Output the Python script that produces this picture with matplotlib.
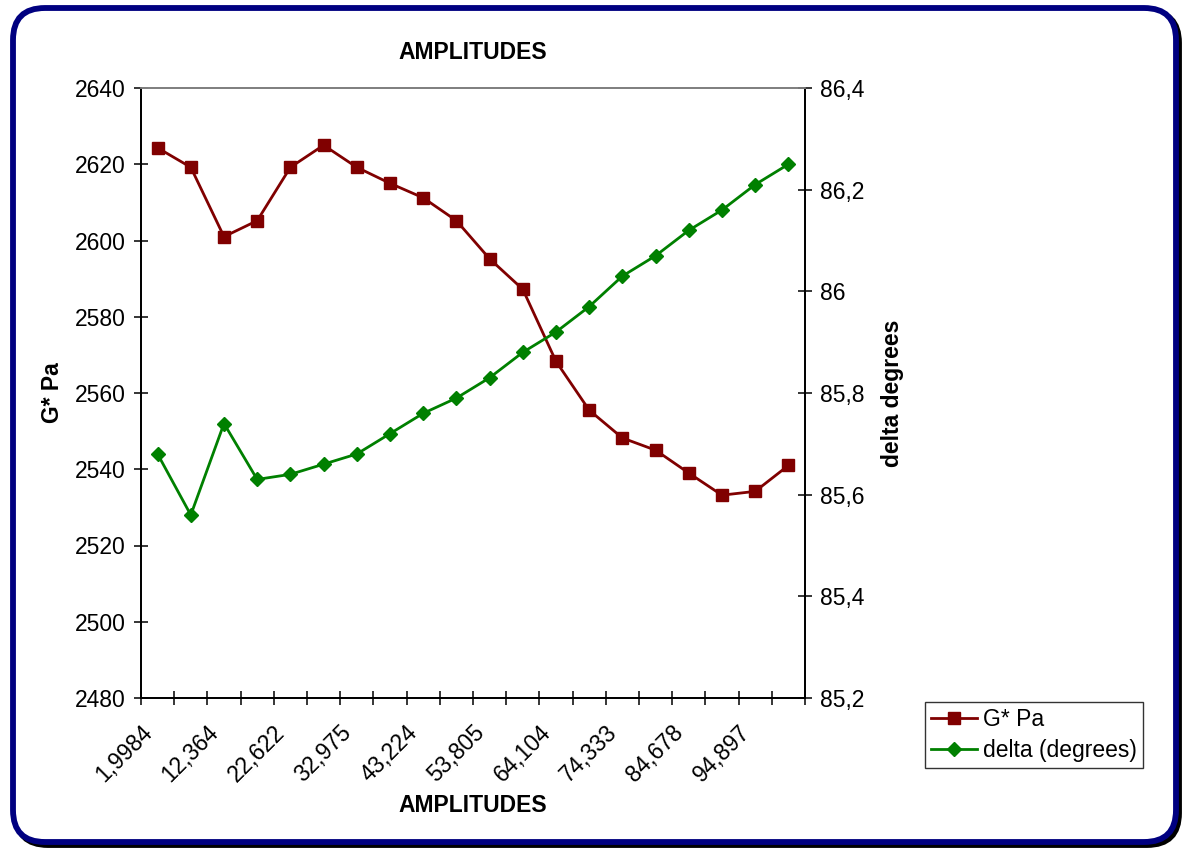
import matplotlib
matplotlib.use("Agg")
import matplotlib.pyplot as plt
from matplotlib.patches import FancyBboxPatch
from matplotlib.lines import Line2D
from matplotlib.transforms import ScaledTranslation
import numpy as np

# Data
amplitude_labels = ["1,9984", "12,364", "22,622", "32,975", "43,224",
                    "53,805", "64,104", "74,333", "84,678", "94,897"]
g_star = [2624.3, 2619.2, 2601.0, 2605.2, 2619.2, 2625.0, 2619.2, 2615.0,
          2611.2, 2605.2, 2595.2, 2587.2, 2568.3, 2555.5, 2548.2, 2545.0,
          2539.0, 2533.2, 2534.2, 2541.0]
delta = [85.68, 85.56, 85.74, 85.63, 85.64, 85.66, 85.68, 85.72, 85.76, 85.79,
         85.83, 85.88, 85.92, 85.97, 86.03, 86.07, 86.12, 86.16, 86.21, 86.25]

left_ticks = [2480, 2500, 2520, 2540, 2560, 2580, 2600, 2620, 2640]
right_ticks = [85.2, 85.4, 85.6, 85.8, 86.0, 86.2, 86.4]
right_tick_labels = ["85,2", "85,4", "85,6", "85,8", "86", "86,2", "86,4"]

plt.rcParams['font.family'] = ['Liberation Sans', 'DejaVu Sans']
FS = 16.5
W, H = 1184, 851
fig = plt.figure(figsize=(W / 100, H / 100), dpi=100)
fig.patch.set_facecolor("white")

# Rounded frame with a dark drop shadow
shadow = FancyBboxPatch((16 / W, 6 / H), 1163 / W, 834 / H,
                        boxstyle="round,pad=0,rounding_size=0.027",
                        transform=fig.transFigure, facecolor="none",
                        edgecolor="black", linewidth=4.2, zorder=0,
                        mutation_aspect=W / H)
frame = FancyBboxPatch((13 / W, 9 / H), 1163 / W, 834 / H,
                       boxstyle="round,pad=0,rounding_size=0.027",
                       transform=fig.transFigure, facecolor="white",
                       edgecolor="#000080", linewidth=4.2, zorder=1,
                       mutation_aspect=W / H)
fig.patches.extend([shadow, frame])

ax = fig.add_axes([141 / W, 1 - 698 / H, (805 - 141) / W, (698 - 88) / H])
ax.set_zorder(3)
ax.patch.set_alpha(0)
ax2 = ax.twinx()

n = len(g_star)
x = np.arange(n)

ax.plot(x, g_star, color="#800000", lw=2.0, marker="s", ms=8.5,
        markeredgecolor="#800000", zorder=4, clip_on=False)
ax2.plot(x, delta, color="#008000", lw=2.0, marker="D", ms=6.7,
         markeredgecolor="#008000", zorder=4, clip_on=False)

ax.set_xlim(-0.5, n - 0.5)
ax.set_ylim(2480, 2640)
ax2.set_ylim(85.2, 86.4)

ax.set_yticks(left_ticks)
ax.set_yticklabels([str(v) for v in left_ticks], fontsize=FS)
ax2.set_yticks(right_ticks)
ax2.set_yticklabels(right_tick_labels, fontsize=FS)

# Category boundaries carry the ticks; labels sit on every other category
ax.set_xticks(np.arange(-0.5, n, 1.0))
ax.set_xticklabels([])
label_pos = np.arange(0, n, 2)
label_tr = ax.get_xaxis_transform() + ScaledTranslation(-0.09, -0.31,
                                                        fig.dpi_scale_trans)
for xi, txt in zip(label_pos, amplitude_labels):
    ax.text(xi, 0, txt, transform=label_tr, rotation=45, ha="right",
            va="center", rotation_mode="anchor", fontsize=FS, clip_on=False)

ax.tick_params(axis="x", which="major", direction="inout", length=10,
               width=1.1, color="black")
ax.tick_params(axis="y", direction="inout", length=10, width=1.1, pad=6)
ax2.tick_params(axis="y", direction="inout", length=10, width=1.1, pad=6)

for a in (ax, ax2):
    for s in a.spines.values():
        s.set_linewidth(1.3)
    a.spines["top"].set_color("#808080")
    a.spines["left"].set_color("black")
    a.spines["right"].set_color("black")
    a.spines["bottom"].set_color("black")

ax.set_title("AMPLITUDES", fontsize=FS, fontweight="bold", pad=21)
fig.text(473 / W, 1 - 805 / H, "AMPLITUDES", fontsize=FS, fontweight="bold",
         ha="center", va="center")
ax.set_ylabel("G* Pa", fontsize=FS, fontweight="bold", labelpad=8)
ax2.set_ylabel("delta degrees", fontsize=FS, fontweight="bold", labelpad=12)

handles = [
    Line2D([], [], color="#800000", lw=2.0, marker="s", ms=8.5),
    Line2D([], [], color="#008000", lw=2.0, marker="D", ms=6.7),
]
leg = fig.legend(handles, ["G* Pa", "delta (degrees)"], loc="upper left",
                 bbox_to_anchor=(925 / W, 1 - 702 / H), fontsize=FS,
                 frameon=True, fancybox=False, edgecolor="black",
                 handlelength=2.0, handletextpad=0.3, borderpad=0.25,
                 labelspacing=0.38, borderaxespad=0)
leg.get_frame().set_linewidth(1.0)
leg.set_zorder(5)

fig.savefig("out.png", dpi=100, facecolor="white")
